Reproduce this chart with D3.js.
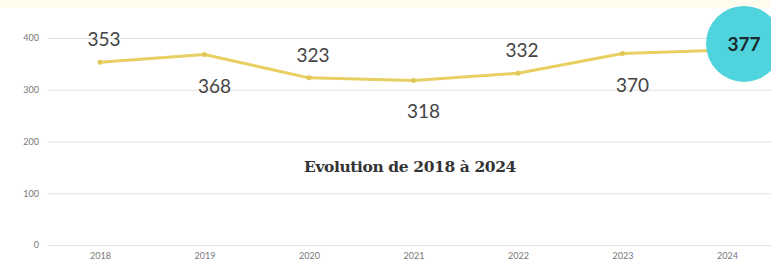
<!DOCTYPE html>
<html>
<head>
<meta charset="utf-8">
<script src="https://cdn.jsdelivr.net/npm/d3@7"></script>
<style>
  body { margin: 0; background: #fff; }
  svg { display: block; }
</style>
</head>
<body>
<div id="chart" style="width:771px;height:267px"></div>
<script>
const years = ['2018', '2019', '2020', '2021', '2022', '2023', '2024'];
const values = [353, 368, 323, 318, 332, 370, 377];
const yTicks = [0, 100, 200, 300, 400];
const title = 'Evolution de 2018 à 2024';

const width = 771, height = 267;
const margin = { top: 38, right: 44, bottom: 22, left: 47 };

const svg = d3.select('#chart').append('svg')
    .attr('width', width)
    .attr('height', height);

// faint strip at the top
svg.append('rect')
    .attr('width', width).attr('height', 8)
    .style('fill', '#fffcee');

const x = d3.scalePoint()
    .domain(years)
    .range([100, 727]);

const y = d3.scaleLinear()
    .domain([0, 400])
    .range([height - margin.bottom, margin.top]);

// grid
const yAxis = svg.append('g')
    .attr('transform', `translate(${margin.left},0)`)
    .call(d3.axisLeft(y).tickValues(yTicks).tickSize(-(width - margin.left)).tickPadding(8));
yAxis.select('.domain').remove();
yAxis.selectAll('.tick line').style('stroke', '#e2e2e2').style('stroke-width', 1.2);
yAxis.selectAll('.tick text')
    .style('font-family', 'Lato, sans-serif')
    .style('font-size', '9px')
    .style('fill', '#777');

const xAxis = svg.append('g')
    .attr('transform', `translate(0,${height - margin.bottom})`)
    .call(d3.axisBottom(x).tickSize(0).tickPadding(8));
xAxis.select('.domain').remove();
xAxis.selectAll('.tick text')
    .style('font-family', 'Lato, sans-serif')
    .style('font-size', '9px')
    .style('fill', '#777');

// title
svg.append('text')
    .attr('x', 410)
    .attr('y', 172)
    .attr('text-anchor', 'middle')
    .style('font-family', '"DejaVu Serif", serif')
    .style('font-weight', 'bold')
    .style('font-size', '15.5px')
    .style('letter-spacing', '-0.4px')
    .style('fill', '#333')
    .text(title);

const pts = years.map((d, i) => ({ year: d, value: values[i] }));

const line = d3.line()
    .x(d => x(d.year))
    .y(d => y(d.value));

svg.append('path')
    .datum(pts)
    .attr('d', line)
    .style('fill', 'none')
    .style('stroke', '#e8cf62')
    .style('stroke-width', 3)
    .style('stroke-linejoin', 'round');

svg.selectAll('.pt')
    .data(pts)
    .enter().append('circle')
    .attr('class', 'pt')
    .attr('cx', d => x(d.year))
    .attr('cy', d => y(d.value))
    .attr('r', 2.5)
    .style('fill', '#e2c757');

// value labels, alternating above / below
const last = pts.length - 1;
svg.selectAll('.lbl')
    .data(pts.slice(0, last))
    .enter().append('text')
    .attr('class', 'lbl')
    .attr('x', (d, i) => x(d.year) + (i % 2 ? 10 : 4))
    .attr('y', (d, i) => y(d.value) + (i % 2 ? 38 : -16))
    .attr('text-anchor', 'middle')
    .style('font-family', 'Lato, sans-serif')
    .style('font-size', '19px')
    .style('fill', '#444')
    .text(d => d.value);

// highlighted final value
const hl = svg.append('g')
    .attr('transform', `translate(${x(pts[last].year) + 17},${y(pts[last].value) - 6})`);
hl.append('circle')
    .attr('r', 38)
    .style('fill', '#4fd3dd');
hl.append('text')
    .attr('text-anchor', 'middle')
    .attr('dy', '0.35em')
    .style('font-family', 'Lato, sans-serif')
    .style('font-weight', 'bold')
    .style('font-size', '19px')
    .style('fill', '#1b2a2e')
    .text(pts[last].value);
</script>
</body>
</html>
